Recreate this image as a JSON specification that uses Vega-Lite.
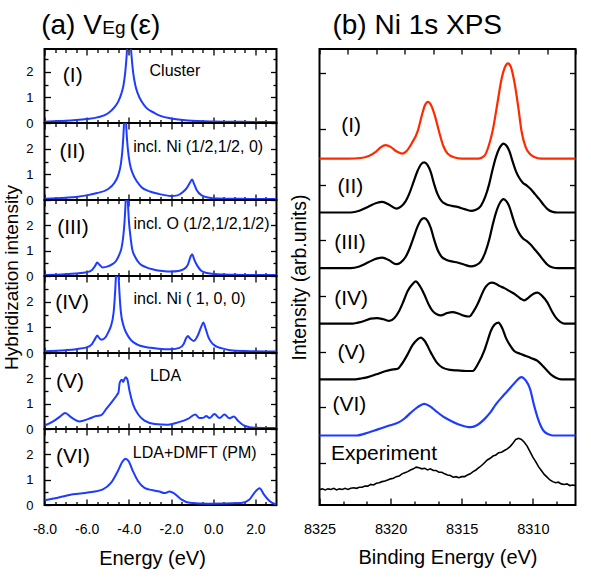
{
"$schema": "https://vega.github.io/schema/vega-lite/v6.json",
"padding": {"left": 0.5, "top": 4, "right": 0, "bottom": 0},
"background": "white",
"config": {
 "axis": {"labelFont": "Liberation Sans", "titleFont": "Liberation Sans", "labelColor": "#000", "titleColor": "#000", "tickColor": "#000", "tickWidth": 1.3, "domain": false, "grid": false, "titleFontWeight": "normal", "labelFontSize": 13, "minExtent": 0, "labelFlush": false, "labelOverlap": false},
 "view": {"stroke": "#000", "strokeWidth": 2},
 "text": {"font": "Liberation Sans", "color": "#000"}
},
"datasets": {
 "p1": [{"e":-8,"v":0.05},{"e":-7.5,"v":0.07},{"e":-7,"v":0.09},{"e":-6.5,"v":0.12},{"e":-6,"v":0.16},{"e":-5.5,"v":0.22},{"e":-5,"v":0.37},{"e":-4.7,"v":0.6},{"e":-4.5,"v":0.85},{"e":-4.36,"v":1.14},{"e":-4.25,"v":1.5},{"e":-4.17,"v":2.0},{"e":-4.1,"v":2.7},{"e":-4.05,"v":3.5},{"e":-4.0,"v":4.5},{"e":-3.95,"v":3.5},{"e":-3.88,"v":2.7},{"e":-3.8,"v":2.0},{"e":-3.7,"v":1.5},{"e":-3.57,"v":1.14},{"e":-3.4,"v":0.85},{"e":-3.18,"v":0.6},{"e":-2.8,"v":0.4},{"e":-2.47,"v":0.27},{"e":-2.0,"v":0.18},{"e":-1.2,"v":0.1},{"e":0,"v":0.06},{"e":1,"v":0.05},{"e":2,"v":0.04},{"e":3,"v":0.04}],
 "p2": [{"e":-8,"v":0.05},{"e":-7,"v":0.09},{"e":-6.5,"v":0.12},{"e":-6,"v":0.18},{"e":-5.5,"v":0.27},{"e":-5,"v":0.42},{"e":-4.7,"v":0.65},{"e":-4.5,"v":0.98},{"e":-4.38,"v":1.4},{"e":-4.3,"v":2.0},{"e":-4.24,"v":2.8},{"e":-4.18,"v":4.2},{"e":-4.12,"v":2.8},{"e":-4.05,"v":2.0},{"e":-3.95,"v":1.4},{"e":-3.8,"v":1.0},{"e":-3.6,"v":0.7},{"e":-3.4,"v":0.5},{"e":-3.0,"v":0.33},{"e":-2.6,"v":0.24},{"e":-2.0,"v":0.16},{"e":-1.7,"v":0.18},{"e":-1.45,"v":0.3},{"e":-1.25,"v":0.47},{"e":-1.1,"v":0.68},{"e":-1.0,"v":0.8},{"e":-0.92,"v":0.65},{"e":-0.78,"v":0.38},{"e":-0.55,"v":0.18},{"e":-0.25,"v":0.1},{"e":0.2,"v":0.06},{"e":1,"v":0.05},{"e":2,"v":0.04},{"e":3,"v":0.04}],
 "p3": [{"e":-8,"v":0.04},{"e":-7,"v":0.07},{"e":-6.5,"v":0.1},{"e":-6,"v":0.15},{"e":-5.75,"v":0.24},{"e":-5.6,"v":0.4},{"e":-5.5,"v":0.53},{"e":-5.4,"v":0.45},{"e":-5.25,"v":0.34},{"e":-5.0,"v":0.38},{"e":-4.8,"v":0.46},{"e":-4.6,"v":0.6},{"e":-4.45,"v":0.85},{"e":-4.35,"v":1.1},{"e":-4.26,"v":1.6},{"e":-4.2,"v":2.2},{"e":-4.15,"v":3.0},{"e":-4.1,"v":4.2},{"e":-4.05,"v":3.0},{"e":-4.0,"v":2.2},{"e":-3.93,"v":1.6},{"e":-3.84,"v":1.05},{"e":-3.7,"v":0.75},{"e":-3.5,"v":0.5},{"e":-3.2,"v":0.35},{"e":-2.8,"v":0.25},{"e":-2.4,"v":0.2},{"e":-2.0,"v":0.18},{"e":-1.65,"v":0.2},{"e":-1.4,"v":0.27},{"e":-1.2,"v":0.45},{"e":-1.08,"v":0.75},{"e":-1.0,"v":0.86},{"e":-0.9,"v":0.65},{"e":-0.75,"v":0.4},{"e":-0.57,"v":0.21},{"e":-0.3,"v":0.12},{"e":0.05,"v":0.08},{"e":1,"v":0.05},{"e":2,"v":0.04},{"e":3,"v":0.04}],
 "p4": [{"e":-8,"v":0.07},{"e":-7,"v":0.11},{"e":-6.5,"v":0.15},{"e":-6,"v":0.22},{"e":-5.75,"v":0.35},{"e":-5.6,"v":0.55},{"e":-5.5,"v":0.68},{"e":-5.4,"v":0.58},{"e":-5.3,"v":0.52},{"e":-5.1,"v":0.62},{"e":-4.95,"v":0.85},{"e":-4.85,"v":1.05},{"e":-4.72,"v":1.6},{"e":-4.65,"v":2.4},{"e":-4.6,"v":3.2},{"e":-4.55,"v":4.2},{"e":-4.5,"v":3.2},{"e":-4.45,"v":2.4},{"e":-4.38,"v":1.6},{"e":-4.25,"v":1.05},{"e":-4.1,"v":0.75},{"e":-3.9,"v":0.5},{"e":-3.6,"v":0.33},{"e":-3.2,"v":0.23},{"e":-2.6,"v":0.17},{"e":-2.0,"v":0.15},{"e":-1.6,"v":0.2},{"e":-1.4,"v":0.35},{"e":-1.27,"v":0.6},{"e":-1.2,"v":0.66},{"e":-1.1,"v":0.57},{"e":-0.92,"v":0.47},{"e":-0.75,"v":0.65},{"e":-0.58,"v":1.0},{"e":-0.47,"v":1.19},{"e":-0.36,"v":0.95},{"e":-0.22,"v":0.6},{"e":-0.1,"v":0.43},{"e":0.1,"v":0.28},{"e":0.38,"v":0.19},{"e":0.8,"v":0.11},{"e":1.5,"v":0.08},{"e":3,"v":0.06}],
 "p5": [{"e":-8,"v":0.13},{"e":-7.53,"v":0.33},{"e":-7.25,"v":0.5},{"e":-7.02,"v":0.63},{"e":-6.73,"v":0.46},{"e":-6.34,"v":0.3},{"e":-5.94,"v":0.39},{"e":-5.55,"v":0.51},{"e":-5.31,"v":0.55},{"e":-5.07,"v":0.79},{"e":-4.76,"v":1.12},{"e":-4.55,"v":1.36},{"e":-4.49,"v":1.45},{"e":-4.44,"v":1.8},{"e":-4.38,"v":1.92},{"e":-4.33,"v":1.94},{"e":-4.27,"v":1.86},{"e":-4.2,"v":1.98},{"e":-4.15,"v":2.04},{"e":-4.08,"v":1.98},{"e":-3.97,"v":1.51},{"e":-3.81,"v":0.99},{"e":-3.57,"v":0.59},{"e":-3.26,"v":0.33},{"e":-2.78,"v":0.2},{"e":-2.15,"v":0.17},{"e":-1.67,"v":0.26},{"e":-1.2,"v":0.4},{"e":-0.85,"v":0.57},{"e":-0.65,"v":0.43},{"e":-0.45,"v":0.45},{"e":-0.33,"v":0.51},{"e":-0.18,"v":0.43},{"e":0.06,"v":0.59},{"e":0.3,"v":0.43},{"e":0.53,"v":0.57},{"e":0.77,"v":0.42},{"e":0.98,"v":0.49},{"e":1.17,"v":0.33},{"e":1.48,"v":0.13},{"e":1.96,"v":0.05},{"e":3,"v":0.04}],
 "p6": [{"e":-8,"v":0.19},{"e":-7.37,"v":0.29},{"e":-6.65,"v":0.42},{"e":-5.94,"v":0.49},{"e":-5.23,"v":0.62},{"e":-4.84,"v":0.88},{"e":-4.52,"v":1.34},{"e":-4.28,"v":1.74},{"e":-4.16,"v":1.83},{"e":-4.02,"v":1.74},{"e":-3.81,"v":1.34},{"e":-3.57,"v":0.95},{"e":-3.26,"v":0.68},{"e":-2.86,"v":0.58},{"e":-2.55,"v":0.53},{"e":-2.31,"v":0.47},{"e":-2.07,"v":0.53},{"e":-1.84,"v":0.45},{"e":-1.52,"v":0.22},{"e":-1.12,"v":0.09},{"e":-0.25,"v":0.05},{"e":1.33,"v":0.08},{"e":1.72,"v":0.22},{"e":1.96,"v":0.49},{"e":2.2,"v":0.66},{"e":2.4,"v":0.42},{"e":2.67,"v":0.16},{"e":2.9,"v":0.05},{"e":3,"v":0.04}],
 "labL": [
  {"p":1,"k":"n","t":"(I)","e":-7.13,"v":1.84},
  {"p":1,"k":"d","t":"Cluster","e":-3.02,"v":2.04},
  {"p":1,"k":"T","t":"(a) V","e":-8.16,"v":3.49},
  {"p":1,"k":"s","t":"Eg","e":-5.26,"v":3.49},
  {"p":1,"k":"T","t":"(ε)","e":-3.98,"v":3.49},
  {"p":2,"k":"n","t":"(II)","e":-7.29,"v":1.86},
  {"p":2,"k":"d","t":"incl. Ni (1/2,1/2, 0)","e":-3.79,"v":2.06},
  {"p":3,"k":"n","t":"(III)","e":-7.4,"v":1.91},
  {"p":3,"k":"d","t":"incl. O (1/2,1/2,1/2)","e":-3.78,"v":2.04},
  {"p":4,"k":"n","t":"(IV)","e":-7.49,"v":1.95},
  {"p":4,"k":"d","t":"incl. Ni ( 1, 0, 0)","e":-3.78,"v":2.11},
  {"p":5,"k":"n","t":"(V)","e":-7.45,"v":1.84},
  {"p":5,"k":"d","t":"LDA","e":-3.0,"v":2.1},
  {"p":6,"k":"n","t":"(VI)","e":-7.45,"v":1.9},
  {"p":6,"k":"d","t":"LDA+DMFT (PM)","e":-3.81,"v":2.07}
 ],
 "labR": [
  {"k":"n","t":"(I)","e":8323.47,"v":6.06},
  {"k":"n","t":"(II)","e":8323.73,"v":4.95},
  {"k":"n","t":"(III)","e":8323.97,"v":3.96},
  {"k":"n","t":"(IV)","e":8323.97,"v":2.94},
  {"k":"n","t":"(V)","e":8323.73,"v":1.98},
  {"k":"n","t":"(VI)","e":8324.09,"v":1.03},
  {"k":"n","t":"Experiment","e":8324.2,"v":0.15},
  {"k":"T","t":"(b) Ni 1s XPS","e":8324.09,"v":7.71}
 ],
 "rr": [
  {"s":"I","e":8325,"v":5.47},{"s":"I","e":8323,"v":5.47},{"s":"I","e":8322.1,"v":5.48},{"s":"I","e":8321.5,"v":5.52},{"s":"I","e":8321,"v":5.6},{"s":"I","e":8320.7,"v":5.67},{"s":"I","e":8320.35,"v":5.71},{"s":"I","e":8320.0,"v":5.68},{"s":"I","e":8319.6,"v":5.6},{"s":"I","e":8319.2,"v":5.56},{"s":"I","e":8318.9,"v":5.6},{"s":"I","e":8318.5,"v":5.75},{"s":"I","e":8318.1,"v":5.96},{"s":"I","e":8317.8,"v":6.25},{"s":"I","e":8317.6,"v":6.42},{"s":"I","e":8317.38,"v":6.49},{"s":"I","e":8317.15,"v":6.43},{"s":"I","e":8316.9,"v":6.25},{"s":"I","e":8316.6,"v":5.96},{"s":"I","e":8316.3,"v":5.7},{"s":"I","e":8316.0,"v":5.56},{"s":"I","e":8315.5,"v":5.49},{"s":"I","e":8315,"v":5.47},{"s":"I","e":8313.8,"v":5.47},{"s":"I","e":8313.4,"v":5.52},{"s":"I","e":8313.1,"v":5.7},{"s":"I","e":8312.8,"v":6.0},{"s":"I","e":8312.5,"v":6.45},{"s":"I","e":8312.2,"v":6.9},{"s":"I","e":8311.95,"v":7.12},{"s":"I","e":8311.75,"v":7.18},{"s":"I","e":8311.55,"v":7.12},{"s":"I","e":8311.3,"v":6.85},{"s":"I","e":8311.0,"v":6.35},{"s":"I","e":8310.8,"v":5.97},{"s":"I","e":8310.5,"v":5.67},{"s":"I","e":8310.2,"v":5.55},{"s":"I","e":8309.9,"v":5.5},{"s":"I","e":8309.4,"v":5.47},{"s":"I","e":8307,"v":5.47},
  {"s":"II","e":8325,"v":4.5},{"s":"II","e":8322.8,"v":4.5},{"s":"II","e":8322.2,"v":4.53},{"s":"II","e":8321.6,"v":4.6},{"s":"II","e":8321.0,"v":4.67},{"s":"II","e":8320.57,"v":4.69},{"s":"II","e":8320.1,"v":4.64},{"s":"II","e":8319.6,"v":4.57},{"s":"II","e":8319.3,"v":4.6},{"s":"II","e":8318.95,"v":4.7},{"s":"II","e":8318.7,"v":4.83},{"s":"II","e":8318.4,"v":5.04},{"s":"II","e":8318.1,"v":5.25},{"s":"II","e":8317.85,"v":5.37},{"s":"II","e":8317.64,"v":5.4},{"s":"II","e":8317.4,"v":5.35},{"s":"II","e":8317.17,"v":5.22},{"s":"II","e":8316.95,"v":5.02},{"s":"II","e":8316.7,"v":4.83},{"s":"II","e":8316.4,"v":4.7},{"s":"II","e":8316.1,"v":4.65},{"s":"II","e":8315.7,"v":4.62},{"s":"II","e":8315.3,"v":4.6},{"s":"II","e":8314.8,"v":4.56},{"s":"II","e":8314.36,"v":4.53},{"s":"II","e":8314.0,"v":4.55},{"s":"II","e":8313.65,"v":4.62},{"s":"II","e":8313.35,"v":4.78},{"s":"II","e":8313.07,"v":5.01},{"s":"II","e":8312.85,"v":5.25},{"s":"II","e":8312.6,"v":5.49},{"s":"II","e":8312.3,"v":5.68},{"s":"II","e":8312.06,"v":5.74},{"s":"II","e":8311.85,"v":5.7},{"s":"II","e":8311.66,"v":5.61},{"s":"II","e":8311.4,"v":5.4},{"s":"II","e":8311.2,"v":5.25},{"s":"II","e":8310.95,"v":5.12},{"s":"II","e":8310.72,"v":5.04},{"s":"II","e":8310.4,"v":4.98},{"s":"II","e":8310.14,"v":4.92},{"s":"II","e":8309.85,"v":4.83},{"s":"II","e":8309.55,"v":4.74},{"s":"II","e":8309.25,"v":4.64},{"s":"II","e":8308.97,"v":4.56},{"s":"II","e":8308.6,"v":4.51},{"s":"II","e":8308.26,"v":4.5},{"s":"II","e":8307,"v":4.5},
  {"s":"III","e":8325,"v":3.5},{"s":"III","e":8322.8,"v":3.5},{"s":"III","e":8322.2,"v":3.53},{"s":"III","e":8321.6,"v":3.6},{"s":"III","e":8321.0,"v":3.67},{"s":"III","e":8320.57,"v":3.69},{"s":"III","e":8320.1,"v":3.64},{"s":"III","e":8319.6,"v":3.57},{"s":"III","e":8319.3,"v":3.6},{"s":"III","e":8318.95,"v":3.7},{"s":"III","e":8318.7,"v":3.83},{"s":"III","e":8318.4,"v":4.04},{"s":"III","e":8318.1,"v":4.25},{"s":"III","e":8317.85,"v":4.37},{"s":"III","e":8317.64,"v":4.4},{"s":"III","e":8317.4,"v":4.35},{"s":"III","e":8317.17,"v":4.22},{"s":"III","e":8316.95,"v":4.02},{"s":"III","e":8316.7,"v":3.83},{"s":"III","e":8316.4,"v":3.7},{"s":"III","e":8316.1,"v":3.65},{"s":"III","e":8315.7,"v":3.62},{"s":"III","e":8315.3,"v":3.6},{"s":"III","e":8314.8,"v":3.56},{"s":"III","e":8314.36,"v":3.53},{"s":"III","e":8314.0,"v":3.55},{"s":"III","e":8313.65,"v":3.62},{"s":"III","e":8313.35,"v":3.78},{"s":"III","e":8313.07,"v":4.01},{"s":"III","e":8312.85,"v":4.25},{"s":"III","e":8312.6,"v":4.49},{"s":"III","e":8312.3,"v":4.68},{"s":"III","e":8312.06,"v":4.74},{"s":"III","e":8311.85,"v":4.7},{"s":"III","e":8311.66,"v":4.61},{"s":"III","e":8311.4,"v":4.4},{"s":"III","e":8311.2,"v":4.25},{"s":"III","e":8310.95,"v":4.12},{"s":"III","e":8310.72,"v":4.04},{"s":"III","e":8310.4,"v":3.98},{"s":"III","e":8310.14,"v":3.92},{"s":"III","e":8309.85,"v":3.83},{"s":"III","e":8309.55,"v":3.74},{"s":"III","e":8309.25,"v":3.64},{"s":"III","e":8308.97,"v":3.56},{"s":"III","e":8308.6,"v":3.51},{"s":"III","e":8308.26,"v":3.5},{"s":"III","e":8307,"v":3.5},
  {"s":"IV","e":8325,"v":2.5},{"s":"IV","e":8322.7,"v":2.5},{"s":"IV","e":8322.3,"v":2.52},{"s":"IV","e":8321.86,"v":2.55},{"s":"IV","e":8321.4,"v":2.59},{"s":"IV","e":8320.97,"v":2.6},{"s":"IV","e":8320.5,"v":2.58},{"s":"IV","e":8320.1,"v":2.55},{"s":"IV","e":8319.75,"v":2.6},{"s":"IV","e":8319.4,"v":2.73},{"s":"IV","e":8319.1,"v":2.9},{"s":"IV","e":8318.8,"v":3.09},{"s":"IV","e":8318.5,"v":3.2},{"s":"IV","e":8318.23,"v":3.26},{"s":"IV","e":8317.95,"v":3.18},{"s":"IV","e":8317.64,"v":3.03},{"s":"IV","e":8317.35,"v":2.86},{"s":"IV","e":8317.05,"v":2.73},{"s":"IV","e":8316.75,"v":2.67},{"s":"IV","e":8316.47,"v":2.65},{"s":"IV","e":8316.05,"v":2.69},{"s":"IV","e":8315.65,"v":2.71},{"s":"IV","e":8315.2,"v":2.68},{"s":"IV","e":8314.8,"v":2.64},{"s":"IV","e":8314.47,"v":2.63},{"s":"IV","e":8314.15,"v":2.73},{"s":"IV","e":8313.89,"v":2.85},{"s":"IV","e":8313.65,"v":2.99},{"s":"IV","e":8313.42,"v":3.12},{"s":"IV","e":8313.15,"v":3.21},{"s":"IV","e":8312.9,"v":3.24},{"s":"IV","e":8312.6,"v":3.22},{"s":"IV","e":8312.36,"v":3.18},{"s":"IV","e":8312.0,"v":3.14},{"s":"IV","e":8311.66,"v":3.09},{"s":"IV","e":8311.2,"v":3.02},{"s":"IV","e":8310.85,"v":2.95},{"s":"IV","e":8310.6,"v":2.92},{"s":"IV","e":8310.3,"v":2.97},{"s":"IV","e":8309.95,"v":3.04},{"s":"IV","e":8309.67,"v":3.06},{"s":"IV","e":8309.35,"v":3.0},{"s":"IV","e":8308.97,"v":2.88},{"s":"IV","e":8308.65,"v":2.72},{"s":"IV","e":8308.38,"v":2.61},{"s":"IV","e":8308.05,"v":2.53},{"s":"IV","e":8307.79,"v":2.5},{"s":"IV","e":8307,"v":2.5},
  {"s":"V","e":8325,"v":1.5},{"s":"V","e":8322.5,"v":1.5},{"s":"V","e":8322.0,"v":1.52},{"s":"V","e":8321.6,"v":1.54},{"s":"V","e":8321.0,"v":1.59},{"s":"V","e":8320.45,"v":1.64},{"s":"V","e":8320.0,"v":1.67},{"s":"V","e":8319.5,"v":1.69},{"s":"V","e":8319.2,"v":1.78},{"s":"V","e":8318.8,"v":1.95},{"s":"V","e":8318.45,"v":2.12},{"s":"V","e":8318.1,"v":2.22},{"s":"V","e":8317.87,"v":2.25},{"s":"V","e":8317.6,"v":2.19},{"s":"V","e":8317.17,"v":1.98},{"s":"V","e":8316.75,"v":1.8},{"s":"V","e":8316.35,"v":1.71},{"s":"V","e":8315.8,"v":1.67},{"s":"V","e":8315.3,"v":1.66},{"s":"V","e":8314.7,"v":1.65},{"s":"V","e":8314.24,"v":1.65},{"s":"V","e":8313.85,"v":1.78},{"s":"V","e":8313.42,"v":2.01},{"s":"V","e":8313.15,"v":2.22},{"s":"V","e":8312.95,"v":2.37},{"s":"V","e":8312.7,"v":2.48},{"s":"V","e":8312.43,"v":2.52},{"s":"V","e":8312.15,"v":2.42},{"s":"V","e":8311.9,"v":2.25},{"s":"V","e":8311.6,"v":2.11},{"s":"V","e":8311.31,"v":2.01},{"s":"V","e":8310.9,"v":1.96},{"s":"V","e":8310.49,"v":1.92},{"s":"V","e":8310.1,"v":1.88},{"s":"V","e":8309.67,"v":1.83},{"s":"V","e":8309.3,"v":1.74},{"s":"V","e":8308.97,"v":1.65},{"s":"V","e":8308.65,"v":1.57},{"s":"V","e":8308.38,"v":1.53},{"s":"V","e":8308.0,"v":1.5},{"s":"V","e":8307,"v":1.5},
  {"s":"VI","e":8325,"v":0.49},{"s":"VI","e":8322.4,"v":0.49},{"s":"VI","e":8321.6,"v":0.54},{"s":"VI","e":8320.9,"v":0.6},{"s":"VI","e":8320.2,"v":0.66},{"s":"VI","e":8319.4,"v":0.73},{"s":"VI","e":8319.0,"v":0.8},{"s":"VI","e":8318.58,"v":0.9},{"s":"VI","e":8318.1,"v":1.0},{"s":"VI","e":8317.64,"v":1.06},{"s":"VI","e":8317.2,"v":1.01},{"s":"VI","e":8316.82,"v":0.93},{"s":"VI","e":8316.3,"v":0.83},{"s":"VI","e":8315.88,"v":0.77},{"s":"VI","e":8315.1,"v":0.68},{"s":"VI","e":8314.36,"v":0.64},{"s":"VI","e":8313.9,"v":0.68},{"s":"VI","e":8313.42,"v":0.78},{"s":"VI","e":8313.0,"v":0.9},{"s":"VI","e":8312.6,"v":1.05},{"s":"VI","e":8312.1,"v":1.2},{"s":"VI","e":8311.78,"v":1.29},{"s":"VI","e":8311.3,"v":1.43},{"s":"VI","e":8310.8,"v":1.54},{"s":"VI","e":8310.5,"v":1.48},{"s":"VI","e":8310.2,"v":1.33},{"s":"VI","e":8309.9,"v":1.02},{"s":"VI","e":8309.65,"v":0.8},{"s":"VI","e":8309.44,"v":0.66},{"s":"VI","e":8309.2,"v":0.56},{"s":"VI","e":8308.97,"v":0.52},{"s":"VI","e":8308.6,"v":0.49},{"s":"VI","e":8307,"v":0.49}
 ],
 "ex": [{"e":8325.0,"v":-0.48},{"e":8324.8,"v":-0.47},{"e":8324.6,"v":-0.49},{"e":8324.4,"v":-0.47},{"e":8324.2,"v":-0.48},{"e":8324.0,"v":-0.46},{"e":8323.8,"v":-0.49},{"e":8323.6,"v":-0.47},{"e":8323.4,"v":-0.48},{"e":8323.2,"v":-0.46},{"e":8323.0,"v":-0.48},{"e":8322.8,"v":-0.46},{"e":8322.6,"v":-0.45},{"e":8322.4,"v":-0.46},{"e":8322.2,"v":-0.44},{"e":8322.0,"v":-0.44},{"e":8321.8,"v":-0.42},{"e":8321.6,"v":-0.42},{"e":8321.4,"v":-0.39},{"e":8321.2,"v":-0.4},{"e":8321.0,"v":-0.37},{"e":8320.8,"v":-0.36},{"e":8320.6,"v":-0.34},{"e":8320.4,"v":-0.33},{"e":8320.2,"v":-0.31},{"e":8320.0,"v":-0.29},{"e":8319.8,"v":-0.28},{"e":8319.6,"v":-0.25},{"e":8319.4,"v":-0.24},{"e":8319.2,"v":-0.2},{"e":8319.0,"v":-0.18},{"e":8318.8,"v":-0.16},{"e":8318.6,"v":-0.13},{"e":8318.4,"v":-0.11},{"e":8318.2,"v":-0.08},{"e":8318.0,"v":-0.09},{"e":8317.8,"v":-0.11},{"e":8317.6,"v":-0.1},{"e":8317.4,"v":-0.13},{"e":8317.2,"v":-0.11},{"e":8317.0,"v":-0.14},{"e":8316.8,"v":-0.14},{"e":8316.6,"v":-0.17},{"e":8316.4,"v":-0.17},{"e":8316.2,"v":-0.2},{"e":8316.0,"v":-0.22},{"e":8315.8,"v":-0.23},{"e":8315.6,"v":-0.26},{"e":8315.4,"v":-0.25},{"e":8315.2,"v":-0.27},{"e":8315.0,"v":-0.25},{"e":8314.8,"v":-0.25},{"e":8314.6,"v":-0.22},{"e":8314.4,"v":-0.2},{"e":8314.2,"v":-0.16},{"e":8314.0,"v":-0.13},{"e":8313.8,"v":-0.09},{"e":8313.6,"v":-0.05},{"e":8313.4,"v":0.0},{"e":8313.2,"v":0.05},{"e":8313.0,"v":0.08},{"e":8312.8,"v":0.12},{"e":8312.6,"v":0.14},{"e":8312.4,"v":0.18},{"e":8312.2,"v":0.19},{"e":8312.0,"v":0.22},{"e":8311.8,"v":0.25},{"e":8311.6,"v":0.29},{"e":8311.4,"v":0.35},{"e":8311.2,"v":0.42},{"e":8311.0,"v":0.44},{"e":8310.8,"v":0.42},{"e":8310.6,"v":0.37},{"e":8310.4,"v":0.3},{"e":8310.2,"v":0.2},{"e":8310.0,"v":0.1},{"e":8309.8,"v":0.02},{"e":8309.6,"v":-0.07},{"e":8309.4,"v":-0.14},{"e":8309.2,"v":-0.21},{"e":8309.0,"v":-0.26},{"e":8308.8,"v":-0.31},{"e":8308.6,"v":-0.34},{"e":8308.4,"v":-0.36},{"e":8308.2,"v":-0.35},{"e":8308.0,"v":-0.38},{"e":8307.8,"v":-0.39},{"e":8307.6,"v":-0.38},{"e":8307.4,"v":-0.41},{"e":8307.2,"v":-0.4},{"e":8307.0,"v":-0.41}]
},
"hconcat": [
 {"vconcat": [
  {"width": 232, "height": 74,
   "layer": [
    {"data": {"name": "p1"}, "mark": {"type": "line", "color": "#1e3cff", "strokeWidth": 2, "clip": true, "interpolate": "monotone"},
     "encoding": {"x": {"field": "e", "type": "quantitative", "scale": {"domain": [-8, 3], "nice": false, "zero": false}, "axis": {"orient": "bottom", "values": [-8,-6,-4,-2,0,2], "tickSize": -6, "labels": false, "title": null}},
                  "y": {"field": "v", "type": "quantitative", "scale": {"domain": [0, 2.9], "nice": false, "zero": false}, "axis": {"orient": "left", "values": [0,1,2], "tickSize": -6, "labelPadding": 17.5, "title": null}}}},
    {"data": {"name": "p1"}, "mark": {"type": "point", "opacity": 0},
     "encoding": {"x": {"field": "e", "type": "quantitative", "scale": {"domain": [-8, 3], "nice": false, "zero": false}, "axis": {"orient": "bottom", "values": [-7.5,-7,-6.5,-5.5,-5,-4.5,-3.5,-3,-2.5,-1.5,-1,-0.5,0.5,1,1.5,2.5], "tickSize": -3.5, "labels": false, "title": null}},
                  "y": {"field": "v", "type": "quantitative", "scale": {"domain": [0, 2.9], "nice": false, "zero": false}, "axis": {"orient": "left", "values": [0.5,1.5,2.5], "tickSize": -3.5, "labels": false, "title": null}}}},
    {"data": {"name": "p1"}, "mark": {"type": "point", "opacity": 0},
     "encoding": {"x": {"field": "e", "type": "quantitative", "scale": {"domain": [-8, 3], "nice": false, "zero": false}, "axis": {"orient": "top", "values": [-8,-6,-4,-2,0,2], "tickSize": -6, "labels": false, "title": null}},
                  "y": {"field": "v", "type": "quantitative", "scale": {"domain": [0, 2.9], "nice": false, "zero": false}, "axis": {"orient": "right", "values": [0,1,2], "tickSize": -6, "labels": false, "title": null}}}},
    {"data": {"name": "p1"}, "mark": {"type": "point", "opacity": 0},
     "encoding": {"x": {"field": "e", "type": "quantitative", "scale": {"domain": [-8, 3], "nice": false, "zero": false}, "axis": {"orient": "top", "values": [-7.5,-7,-6.5,-5.5,-5,-4.5,-3.5,-3,-2.5,-1.5,-1,-0.5,0.5,1,1.5,2.5], "tickSize": -3.5, "labels": false, "title": null}},
                  "y": {"field": "v", "type": "quantitative", "scale": {"domain": [0, 2.9], "nice": false, "zero": false}, "axis": {"orient": "right", "values": [0.5,1.5,2.5], "tickSize": -3.5, "labels": false, "title": null}}}},
    {"data": {"name": "labL"}, "transform": [{"filter": "datum.p == 1 && datum.k == 'n'"}], "mark": {"type": "text", "fontSize": 21, "align": "left", "baseline": "middle"},
     "encoding": {"x": {"field": "e", "type": "quantitative", "scale": {"domain": [-8, 3], "nice": false, "zero": false}, "axis": null}, "y": {"field": "v", "type": "quantitative", "scale": {"domain": [0, 2.9], "nice": false, "zero": false}, "axis": null}, "text": {"field": "t"}}},
    {"data": {"name": "labL"}, "transform": [{"filter": "datum.p == 1 && datum.k == 'd'"}], "mark": {"type": "text", "fontSize": 16, "align": "left", "baseline": "middle"},
     "encoding": {"x": {"field": "e", "type": "quantitative", "scale": {"domain": [-8, 3], "nice": false, "zero": false}, "axis": null}, "y": {"field": "v", "type": "quantitative", "scale": {"domain": [0, 2.9], "nice": false, "zero": false}, "axis": null}, "text": {"field": "t"}}},
    {"data": {"name": "labL"}, "transform": [{"filter": "datum.p == 1 && datum.k == 'T'"}], "mark": {"type": "text", "fontSize": 28, "align": "left", "baseline": "alphabetic"},
     "encoding": {"x": {"field": "e", "type": "quantitative", "scale": {"domain": [-8, 3], "nice": false, "zero": false}, "axis": null}, "y": {"field": "v", "type": "quantitative", "scale": {"domain": [0, 2.9], "nice": false, "zero": false}, "axis": null}, "text": {"field": "t"}}},
    {"data": {"name": "labL"}, "transform": [{"filter": "datum.p == 1 && datum.k == 's'"}], "mark": {"type": "text", "fontSize": 19, "align": "left", "baseline": "alphabetic"},
     "encoding": {"x": {"field": "e", "type": "quantitative", "scale": {"domain": [-8, 3], "nice": false, "zero": false}, "axis": null}, "y": {"field": "v", "type": "quantitative", "scale": {"domain": [0, 2.9], "nice": false, "zero": false}, "axis": null}, "text": {"field": "t"}}}
   ],
   "resolve": {"axis": {"x": "independent", "y": "independent"}}
  },
  {"width": 232, "height": 77,
   "layer": [
    {"data": {"name": "p2"}, "mark": {"type": "line", "color": "#1e3cff", "strokeWidth": 2, "clip": true, "interpolate": "monotone"},
     "encoding": {"x": {"field": "e", "type": "quantitative", "scale": {"domain": [-8, 3], "nice": false, "zero": false}, "axis": {"orient": "bottom", "values": [-8,-6,-4,-2,0,2], "tickSize": -6, "labels": false, "title": null}},
                  "y": {"field": "v", "type": "quantitative", "scale": {"domain": [0, 3], "nice": false, "zero": false}, "axis": {"orient": "left", "values": [0,1,2], "tickSize": -6, "labelPadding": 17.5, "title": null}}}},
    {"data": {"name": "p2"}, "mark": {"type": "point", "opacity": 0},
     "encoding": {"x": {"field": "e", "type": "quantitative", "scale": {"domain": [-8, 3], "nice": false, "zero": false}, "axis": {"orient": "bottom", "values": [-7.5,-7,-6.5,-5.5,-5,-4.5,-3.5,-3,-2.5,-1.5,-1,-0.5,0.5,1,1.5,2.5], "tickSize": -3.5, "labels": false, "title": null}},
                  "y": {"field": "v", "type": "quantitative", "scale": {"domain": [0, 3], "nice": false, "zero": false}, "axis": {"orient": "left", "values": [0.5,1.5,2.5], "tickSize": -3.5, "labels": false, "title": null}}}},
    {"data": {"name": "p2"}, "mark": {"type": "point", "opacity": 0},
     "encoding": {"x": {"field": "e", "type": "quantitative", "scale": {"domain": [-8, 3], "nice": false, "zero": false}, "axis": {"orient": "top", "values": [-8,-6,-4,-2,0,2], "tickSize": -6, "labels": false, "title": null}},
                  "y": {"field": "v", "type": "quantitative", "scale": {"domain": [0, 3], "nice": false, "zero": false}, "axis": {"orient": "right", "values": [0,1,2], "tickSize": -6, "labels": false, "title": null}}}},
    {"data": {"name": "p2"}, "mark": {"type": "point", "opacity": 0},
     "encoding": {"x": {"field": "e", "type": "quantitative", "scale": {"domain": [-8, 3], "nice": false, "zero": false}, "axis": {"orient": "top", "values": [-7.5,-7,-6.5,-5.5,-5,-4.5,-3.5,-3,-2.5,-1.5,-1,-0.5,0.5,1,1.5,2.5], "tickSize": -3.5, "labels": false, "title": null}},
                  "y": {"field": "v", "type": "quantitative", "scale": {"domain": [0, 3], "nice": false, "zero": false}, "axis": {"orient": "right", "values": [0.5,1.5,2.5], "tickSize": -3.5, "labels": false, "title": null}}}},
    {"data": {"name": "labL"}, "transform": [{"filter": "datum.p == 2 && datum.k == 'n'"}], "mark": {"type": "text", "fontSize": 21, "align": "left", "baseline": "middle"},
     "encoding": {"x": {"field": "e", "type": "quantitative", "scale": {"domain": [-8, 3], "nice": false, "zero": false}, "axis": null}, "y": {"field": "v", "type": "quantitative", "scale": {"domain": [0, 3], "nice": false, "zero": false}, "axis": null}, "text": {"field": "t"}}},
    {"data": {"name": "labL"}, "transform": [{"filter": "datum.p == 2 && datum.k == 'd'"}], "mark": {"type": "text", "fontSize": 16, "align": "left", "baseline": "middle"},
     "encoding": {"x": {"field": "e", "type": "quantitative", "scale": {"domain": [-8, 3], "nice": false, "zero": false}, "axis": null}, "y": {"field": "v", "type": "quantitative", "scale": {"domain": [0, 3], "nice": false, "zero": false}, "axis": null}, "text": {"field": "t"}}}
   ],
   "resolve": {"axis": {"x": "independent", "y": "independent"}}
  },
  {"width": 232, "height": 76,
   "layer": [
    {"data": {"name": "p3"}, "mark": {"type": "line", "color": "#1e3cff", "strokeWidth": 2, "clip": true, "interpolate": "monotone"},
     "encoding": {"x": {"field": "e", "type": "quantitative", "scale": {"domain": [-8, 3], "nice": false, "zero": false}, "axis": {"orient": "bottom", "values": [-8,-6,-4,-2,0,2], "tickSize": -6, "labels": false, "title": null}},
                  "y": {"field": "v", "type": "quantitative", "scale": {"domain": [0, 3], "nice": false, "zero": false}, "axis": {"orient": "left", "values": [0,1,2], "tickSize": -6, "labelPadding": 17.5, "title": "Hybridization intensity", "titleFontSize": 19, "titleX": -23, "titleY": 77}}}},
    {"data": {"name": "p3"}, "mark": {"type": "point", "opacity": 0},
     "encoding": {"x": {"field": "e", "type": "quantitative", "scale": {"domain": [-8, 3], "nice": false, "zero": false}, "axis": {"orient": "bottom", "values": [-7.5,-7,-6.5,-5.5,-5,-4.5,-3.5,-3,-2.5,-1.5,-1,-0.5,0.5,1,1.5,2.5], "tickSize": -3.5, "labels": false, "title": null}},
                  "y": {"field": "v", "type": "quantitative", "scale": {"domain": [0, 3], "nice": false, "zero": false}, "axis": {"orient": "left", "values": [0.5,1.5,2.5], "tickSize": -3.5, "labels": false, "title": null}}}},
    {"data": {"name": "p3"}, "mark": {"type": "point", "opacity": 0},
     "encoding": {"x": {"field": "e", "type": "quantitative", "scale": {"domain": [-8, 3], "nice": false, "zero": false}, "axis": {"orient": "top", "values": [-8,-6,-4,-2,0,2], "tickSize": -6, "labels": false, "title": null}},
                  "y": {"field": "v", "type": "quantitative", "scale": {"domain": [0, 3], "nice": false, "zero": false}, "axis": {"orient": "right", "values": [0,1,2], "tickSize": -6, "labels": false, "title": null}}}},
    {"data": {"name": "p3"}, "mark": {"type": "point", "opacity": 0},
     "encoding": {"x": {"field": "e", "type": "quantitative", "scale": {"domain": [-8, 3], "nice": false, "zero": false}, "axis": {"orient": "top", "values": [-7.5,-7,-6.5,-5.5,-5,-4.5,-3.5,-3,-2.5,-1.5,-1,-0.5,0.5,1,1.5,2.5], "tickSize": -3.5, "labels": false, "title": null}},
                  "y": {"field": "v", "type": "quantitative", "scale": {"domain": [0, 3], "nice": false, "zero": false}, "axis": {"orient": "right", "values": [0.5,1.5,2.5], "tickSize": -3.5, "labels": false, "title": null}}}},
    {"data": {"name": "labL"}, "transform": [{"filter": "datum.p == 3 && datum.k == 'n'"}], "mark": {"type": "text", "fontSize": 21, "align": "left", "baseline": "middle"},
     "encoding": {"x": {"field": "e", "type": "quantitative", "scale": {"domain": [-8, 3], "nice": false, "zero": false}, "axis": null}, "y": {"field": "v", "type": "quantitative", "scale": {"domain": [0, 3], "nice": false, "zero": false}, "axis": null}, "text": {"field": "t"}}},
    {"data": {"name": "labL"}, "transform": [{"filter": "datum.p == 3 && datum.k == 'd'"}], "mark": {"type": "text", "fontSize": 16, "align": "left", "baseline": "middle"},
     "encoding": {"x": {"field": "e", "type": "quantitative", "scale": {"domain": [-8, 3], "nice": false, "zero": false}, "axis": null}, "y": {"field": "v", "type": "quantitative", "scale": {"domain": [0, 3], "nice": false, "zero": false}, "axis": null}, "text": {"field": "t"}}}
   ],
   "resolve": {"axis": {"x": "independent", "y": "independent"}}
  },
  {"width": 232, "height": 77,
   "layer": [
    {"data": {"name": "p4"}, "mark": {"type": "line", "color": "#1e3cff", "strokeWidth": 2, "clip": true, "interpolate": "monotone"},
     "encoding": {"x": {"field": "e", "type": "quantitative", "scale": {"domain": [-8, 3], "nice": false, "zero": false}, "axis": {"orient": "bottom", "values": [-8,-6,-4,-2,0,2], "tickSize": -6, "labels": false, "title": null}},
                  "y": {"field": "v", "type": "quantitative", "scale": {"domain": [0, 3], "nice": false, "zero": false}, "axis": {"orient": "left", "values": [0,1,2], "tickSize": -6, "labelPadding": 17.5, "title": null}}}},
    {"data": {"name": "p4"}, "mark": {"type": "point", "opacity": 0},
     "encoding": {"x": {"field": "e", "type": "quantitative", "scale": {"domain": [-8, 3], "nice": false, "zero": false}, "axis": {"orient": "bottom", "values": [-7.5,-7,-6.5,-5.5,-5,-4.5,-3.5,-3,-2.5,-1.5,-1,-0.5,0.5,1,1.5,2.5], "tickSize": -3.5, "labels": false, "title": null}},
                  "y": {"field": "v", "type": "quantitative", "scale": {"domain": [0, 3], "nice": false, "zero": false}, "axis": {"orient": "left", "values": [0.5,1.5,2.5], "tickSize": -3.5, "labels": false, "title": null}}}},
    {"data": {"name": "p4"}, "mark": {"type": "point", "opacity": 0},
     "encoding": {"x": {"field": "e", "type": "quantitative", "scale": {"domain": [-8, 3], "nice": false, "zero": false}, "axis": {"orient": "top", "values": [-8,-6,-4,-2,0,2], "tickSize": -6, "labels": false, "title": null}},
                  "y": {"field": "v", "type": "quantitative", "scale": {"domain": [0, 3], "nice": false, "zero": false}, "axis": {"orient": "right", "values": [0,1,2], "tickSize": -6, "labels": false, "title": null}}}},
    {"data": {"name": "p4"}, "mark": {"type": "point", "opacity": 0},
     "encoding": {"x": {"field": "e", "type": "quantitative", "scale": {"domain": [-8, 3], "nice": false, "zero": false}, "axis": {"orient": "top", "values": [-7.5,-7,-6.5,-5.5,-5,-4.5,-3.5,-3,-2.5,-1.5,-1,-0.5,0.5,1,1.5,2.5], "tickSize": -3.5, "labels": false, "title": null}},
                  "y": {"field": "v", "type": "quantitative", "scale": {"domain": [0, 3], "nice": false, "zero": false}, "axis": {"orient": "right", "values": [0.5,1.5,2.5], "tickSize": -3.5, "labels": false, "title": null}}}},
    {"data": {"name": "labL"}, "transform": [{"filter": "datum.p == 4 && datum.k == 'n'"}], "mark": {"type": "text", "fontSize": 21, "align": "left", "baseline": "middle"},
     "encoding": {"x": {"field": "e", "type": "quantitative", "scale": {"domain": [-8, 3], "nice": false, "zero": false}, "axis": null}, "y": {"field": "v", "type": "quantitative", "scale": {"domain": [0, 3], "nice": false, "zero": false}, "axis": null}, "text": {"field": "t"}}},
    {"data": {"name": "labL"}, "transform": [{"filter": "datum.p == 4 && datum.k == 'd'"}], "mark": {"type": "text", "fontSize": 16, "align": "left", "baseline": "middle"},
     "encoding": {"x": {"field": "e", "type": "quantitative", "scale": {"domain": [-8, 3], "nice": false, "zero": false}, "axis": null}, "y": {"field": "v", "type": "quantitative", "scale": {"domain": [0, 3], "nice": false, "zero": false}, "axis": null}, "text": {"field": "t"}}}
   ],
   "resolve": {"axis": {"x": "independent", "y": "independent"}}
  },
  {"width": 232, "height": 76,
   "layer": [
    {"data": {"name": "p5"}, "mark": {"type": "line", "color": "#1e3cff", "strokeWidth": 2, "clip": true, "interpolate": "monotone"},
     "encoding": {"x": {"field": "e", "type": "quantitative", "scale": {"domain": [-8, 3], "nice": false, "zero": false}, "axis": {"orient": "bottom", "values": [-8,-6,-4,-2,0,2], "tickSize": -6, "labels": false, "title": null}},
                  "y": {"field": "v", "type": "quantitative", "scale": {"domain": [0, 3], "nice": false, "zero": false}, "axis": {"orient": "left", "values": [0,1,2], "tickSize": -6, "labelPadding": 17.5, "title": null}}}},
    {"data": {"name": "p5"}, "mark": {"type": "point", "opacity": 0},
     "encoding": {"x": {"field": "e", "type": "quantitative", "scale": {"domain": [-8, 3], "nice": false, "zero": false}, "axis": {"orient": "bottom", "values": [-7.5,-7,-6.5,-5.5,-5,-4.5,-3.5,-3,-2.5,-1.5,-1,-0.5,0.5,1,1.5,2.5], "tickSize": -3.5, "labels": false, "title": null}},
                  "y": {"field": "v", "type": "quantitative", "scale": {"domain": [0, 3], "nice": false, "zero": false}, "axis": {"orient": "left", "values": [0.5,1.5,2.5], "tickSize": -3.5, "labels": false, "title": null}}}},
    {"data": {"name": "p5"}, "mark": {"type": "point", "opacity": 0},
     "encoding": {"x": {"field": "e", "type": "quantitative", "scale": {"domain": [-8, 3], "nice": false, "zero": false}, "axis": {"orient": "top", "values": [-8,-6,-4,-2,0,2], "tickSize": -6, "labels": false, "title": null}},
                  "y": {"field": "v", "type": "quantitative", "scale": {"domain": [0, 3], "nice": false, "zero": false}, "axis": {"orient": "right", "values": [0,1,2], "tickSize": -6, "labels": false, "title": null}}}},
    {"data": {"name": "p5"}, "mark": {"type": "point", "opacity": 0},
     "encoding": {"x": {"field": "e", "type": "quantitative", "scale": {"domain": [-8, 3], "nice": false, "zero": false}, "axis": {"orient": "top", "values": [-7.5,-7,-6.5,-5.5,-5,-4.5,-3.5,-3,-2.5,-1.5,-1,-0.5,0.5,1,1.5,2.5], "tickSize": -3.5, "labels": false, "title": null}},
                  "y": {"field": "v", "type": "quantitative", "scale": {"domain": [0, 3], "nice": false, "zero": false}, "axis": {"orient": "right", "values": [0.5,1.5,2.5], "tickSize": -3.5, "labels": false, "title": null}}}},
    {"data": {"name": "labL"}, "transform": [{"filter": "datum.p == 5 && datum.k == 'n'"}], "mark": {"type": "text", "fontSize": 21, "align": "left", "baseline": "middle"},
     "encoding": {"x": {"field": "e", "type": "quantitative", "scale": {"domain": [-8, 3], "nice": false, "zero": false}, "axis": null}, "y": {"field": "v", "type": "quantitative", "scale": {"domain": [0, 3], "nice": false, "zero": false}, "axis": null}, "text": {"field": "t"}}},
    {"data": {"name": "labL"}, "transform": [{"filter": "datum.p == 5 && datum.k == 'd'"}], "mark": {"type": "text", "fontSize": 16, "align": "left", "baseline": "middle"},
     "encoding": {"x": {"field": "e", "type": "quantitative", "scale": {"domain": [-8, 3], "nice": false, "zero": false}, "axis": null}, "y": {"field": "v", "type": "quantitative", "scale": {"domain": [0, 3], "nice": false, "zero": false}, "axis": null}, "text": {"field": "t"}}}
   ],
   "resolve": {"axis": {"x": "independent", "y": "independent"}}
  },
  {"width": 232, "height": 76,
   "layer": [
    {"data": {"name": "p6"}, "mark": {"type": "line", "color": "#1e3cff", "strokeWidth": 2, "clip": true, "interpolate": "monotone"},
     "encoding": {"x": {"field": "e", "type": "quantitative", "scale": {"domain": [-8, 3], "nice": false, "zero": false}, "axis": {"orient": "bottom", "values": [-8,-6,-4,-2,0,2], "tickSize": -6, "labelFontSize": 14, "labelPadding": 23, "labelExpr": "(datum.value < 0 ? '-' : '') + format(abs(datum.value), '.1f')", "title": "Energy (eV)", "titleFontSize": 20, "titleX": 107.5, "titleY": 43, "titleBaseline": "top"}},
                  "y": {"field": "v", "type": "quantitative", "scale": {"domain": [0, 3], "nice": false, "zero": false}, "axis": {"orient": "left", "values": [0,1,2], "tickSize": -6, "labelPadding": 17.5, "title": null}}}},
    {"data": {"name": "p6"}, "mark": {"type": "point", "opacity": 0},
     "encoding": {"x": {"field": "e", "type": "quantitative", "scale": {"domain": [-8, 3], "nice": false, "zero": false}, "axis": {"orient": "bottom", "values": [-7.5,-7,-6.5,-5.5,-5,-4.5,-3.5,-3,-2.5,-1.5,-1,-0.5,0.5,1,1.5,2.5], "tickSize": -3.5, "labels": false, "title": null}},
                  "y": {"field": "v", "type": "quantitative", "scale": {"domain": [0, 3], "nice": false, "zero": false}, "axis": {"orient": "left", "values": [0.5,1.5,2.5], "tickSize": -3.5, "labels": false, "title": null}}}},
    {"data": {"name": "p6"}, "mark": {"type": "point", "opacity": 0},
     "encoding": {"x": {"field": "e", "type": "quantitative", "scale": {"domain": [-8, 3], "nice": false, "zero": false}, "axis": {"orient": "top", "values": [-8,-6,-4,-2,0,2], "tickSize": -6, "labels": false, "title": null}},
                  "y": {"field": "v", "type": "quantitative", "scale": {"domain": [0, 3], "nice": false, "zero": false}, "axis": {"orient": "right", "values": [0,1,2], "tickSize": -6, "labels": false, "title": null}}}},
    {"data": {"name": "p6"}, "mark": {"type": "point", "opacity": 0},
     "encoding": {"x": {"field": "e", "type": "quantitative", "scale": {"domain": [-8, 3], "nice": false, "zero": false}, "axis": {"orient": "top", "values": [-7.5,-7,-6.5,-5.5,-5,-4.5,-3.5,-3,-2.5,-1.5,-1,-0.5,0.5,1,1.5,2.5], "tickSize": -3.5, "labels": false, "title": null}},
                  "y": {"field": "v", "type": "quantitative", "scale": {"domain": [0, 3], "nice": false, "zero": false}, "axis": {"orient": "right", "values": [0.5,1.5,2.5], "tickSize": -3.5, "labels": false, "title": null}}}},
    {"data": {"name": "labL"}, "transform": [{"filter": "datum.p == 6 && datum.k == 'n'"}], "mark": {"type": "text", "fontSize": 21, "align": "left", "baseline": "middle"},
     "encoding": {"x": {"field": "e", "type": "quantitative", "scale": {"domain": [-8, 3], "nice": false, "zero": false}, "axis": null}, "y": {"field": "v", "type": "quantitative", "scale": {"domain": [0, 3], "nice": false, "zero": false}, "axis": null}, "text": {"field": "t"}}},
    {"data": {"name": "labL"}, "transform": [{"filter": "datum.p == 6 && datum.k == 'd'"}], "mark": {"type": "text", "fontSize": 16, "align": "left", "baseline": "middle"},
     "encoding": {"x": {"field": "e", "type": "quantitative", "scale": {"domain": [-8, 3], "nice": false, "zero": false}, "axis": null}, "y": {"field": "v", "type": "quantitative", "scale": {"domain": [0, 3], "nice": false, "zero": false}, "axis": null}, "text": {"field": "t"}}}
   ],
   "resolve": {"axis": {"x": "independent", "y": "independent"}}
  }
 ], "spacing": 0, "bounds": "flush"},
 {"width": 256, "height": 456,
  "layer": [
   {"data": {"name": "rr"}, "mark": {"type": "line", "strokeWidth": 2.2, "interpolate": "monotone"},
    "encoding": {"x": {"field": "e", "type": "quantitative", "scale": {"domain": [8307, 8325], "reverse": true, "nice": false, "zero": false}, "axis": {"orient": "bottom", "values": [8325,8320,8315,8310], "tickSize": -7, "labelFontSize": 14.5, "labelPadding": 24, "format": "d", "title": "Binding Energy (eV)", "titleFontSize": 20, "titleY": 42.5, "titleBaseline": "top"}},
                 "y": {"field": "v", "type": "quantitative", "scale": {"domain": [-0.76, 7.44], "nice": false, "zero": false}, "axis": {"orient": "left", "values": [0,1,2,3,4,5,6,7], "tickSize": -6, "labels": false, "title": "Intensity (arb.units)", "titleFontSize": 19.5, "titleX": -10}},
                 "color": {"field": "s", "type": "nominal", "scale": {"domain": ["I","II","III","IV","V","VI"], "range": ["#ff2a00","#000000","#000000","#000000","#000000","#1e3cff"]}, "legend": null},
                 "order": {"field": "e", "sort": "descending"}}},
   {"data": {"name": "ex"}, "mark": {"type": "line", "strokeWidth": 1.6, "color": "#000"},
    "encoding": {"x": {"field": "e", "type": "quantitative", "scale": {"domain": [8307, 8325], "reverse": true, "nice": false, "zero": false}, "axis": {"orient": "bottom", "values": [8323.333,8321.667,8318.333,8316.667,8313.333,8311.667,8308.333], "tickSize": -4, "labels": false, "title": null}},
                 "y": {"field": "v", "type": "quantitative", "scale": {"domain": [-0.76, 7.44], "nice": false, "zero": false}, "axis": {"orient": "right", "values": [0,1,2,3,4,5,6,7], "tickSize": -6, "labels": false, "title": null}},
                 "order": {"field": "e", "sort": "descending"}}},
   {"data": {"name": "ex"}, "mark": {"type": "point", "opacity": 0},
    "encoding": {"x": {"field": "e", "type": "quantitative", "scale": {"domain": [8307, 8325], "reverse": true, "nice": false, "zero": false}, "axis": {"orient": "top", "values": [8325,8323,8321,8319,8317,8315,8313,8311,8309,8307], "tickSize": -5, "labels": false, "title": null}},
                 "y": {"field": "v", "type": "quantitative", "scale": {"domain": [-0.76, 7.44], "nice": false, "zero": false}, "axis": null}}},
   {"data": {"name": "labR"}, "transform": [{"filter": "datum.k == 'n'"}], "mark": {"type": "text", "fontSize": 21, "align": "left", "baseline": "middle"},
    "encoding": {"x": {"field": "e", "type": "quantitative", "scale": {"domain": [8307, 8325], "reverse": true, "nice": false, "zero": false}, "axis": null}, "y": {"field": "v", "type": "quantitative", "scale": {"domain": [-0.76, 7.44], "nice": false, "zero": false}, "axis": null}, "text": {"field": "t"}}},
   {"data": {"name": "labR"}, "transform": [{"filter": "datum.k == 'T'"}], "mark": {"type": "text", "fontSize": 28, "align": "left", "baseline": "alphabetic"},
    "encoding": {"x": {"field": "e", "type": "quantitative", "scale": {"domain": [8307, 8325], "reverse": true, "nice": false, "zero": false}, "axis": null}, "y": {"field": "v", "type": "quantitative", "scale": {"domain": [-0.76, 7.44], "nice": false, "zero": false}, "axis": null}, "text": {"field": "t"}}}
  ],
  "resolve": {"axis": {"x": "independent", "y": "independent"}}
 }
],
"spacing": 8
}
